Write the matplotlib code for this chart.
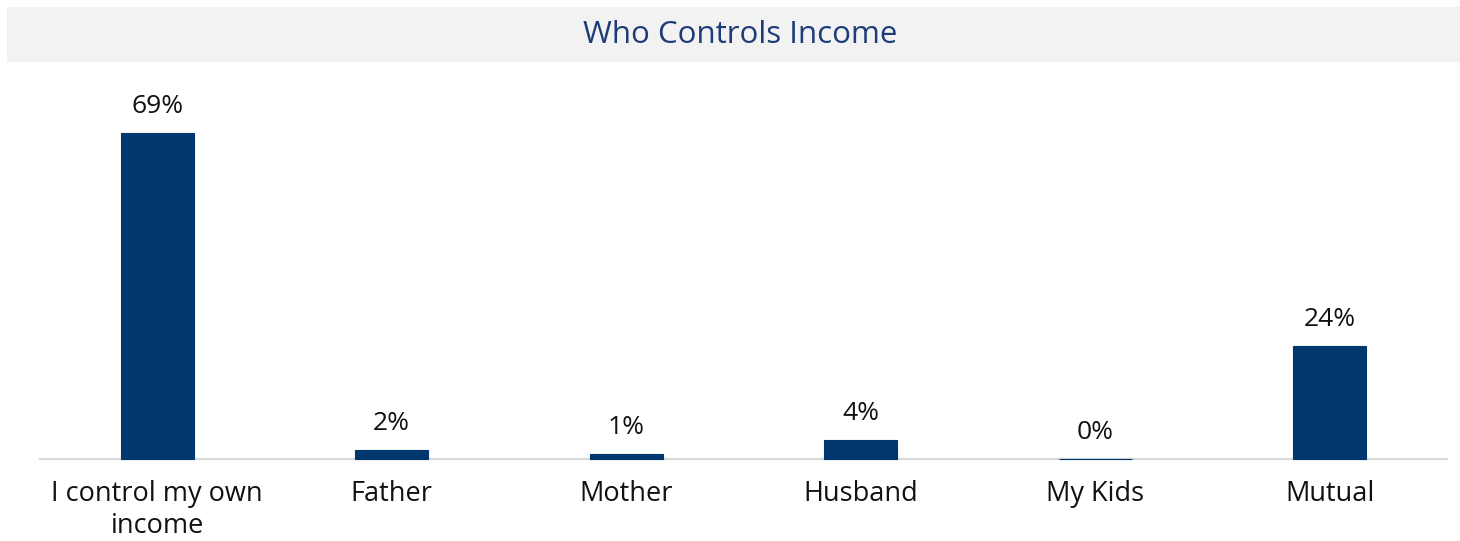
import matplotlib.pyplot as plt
from matplotlib.patches import Rectangle

categories = ['I control my own\nincome', 'Father', 'Mother', 'Husband', 'My Kids', 'Mutual']
values = [69, 2, 1, 4, 0, 24]
labels = ['69%', '2%', '1%', '4%', '0%', '24%']

bar_color = '#00376f'
title_color = '#1d3c78'

plt.rcParams['font.family'] = ['Open Sans', 'DejaVu Sans']

fig = plt.figure(figsize=(14.6, 5.41), dpi=100)
ax = fig.add_axes([40 / 1460, 1 - 459 / 541, 1407 / 1460, 378 / 541])

# grey title band across the top
fig.patches.append(Rectangle((7 / 1460, 1 - 62 / 541), 1 - 7 / 1460, 55 / 541,
                             transform=fig.transFigure, facecolor='#f2f2f2',
                             edgecolor='none', zorder=0))
fig.text(0.507, 1 - 35 / 541, 'Who Controls Income', ha='center', va='center',
         fontsize=22.5, color=title_color)

x = range(len(categories))
bars = ax.bar(x, values, width=0.31, color=bar_color, edgecolor=bar_color,
              linewidth=0.8, zorder=3, clip_on=False)
for xi, v, lab in zip(x, values, labels):
    ax.annotate(lab, (xi, v), xytext=(0, 10), textcoords='offset points',
                ha='center', va='bottom', fontsize=19, color='#111111')

ax.set_xlim(-0.5, len(categories) - 0.5)
ax.set_ylim(0, 80)
ax.set_yticks([])
ax.set_xticks(list(x))
ax.set_xticklabels(categories, fontsize=19.5, color='#111111', linespacing=1.2)
ax.tick_params(axis='x', length=0, pad=15)
for s in ['top', 'right', 'left']:
    ax.spines[s].set_visible(False)
ax.spines['bottom'].set_color('#d9d9d9')
ax.spines['bottom'].set_linewidth(1.6)
ax.spines['bottom'].set_zorder(1)
ax.patch.set_alpha(0)

fig.savefig('out.png', dpi=100)
